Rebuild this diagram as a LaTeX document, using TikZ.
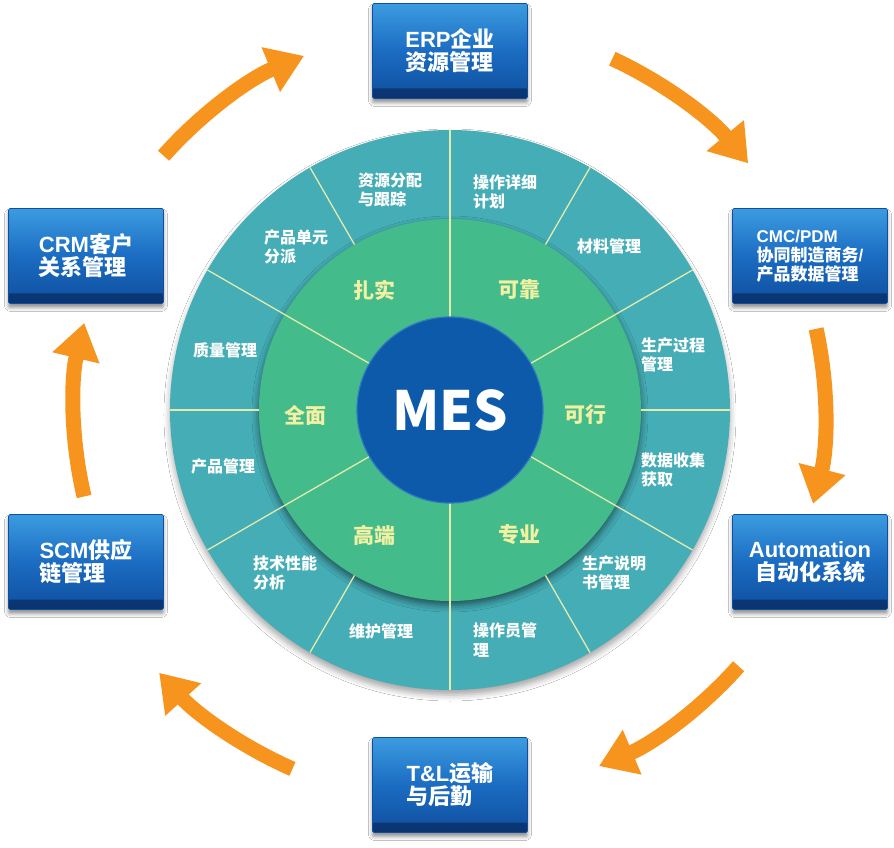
\documentclass[tikz,border=0pt]{standalone}
\usepackage{fontspec}
\setmainfont{Liberation Sans}
\newfontfamily\cjkf{Noto Sans CJK SC}
\newfontfamily\latf{Liberation Sans}
\usetikzlibrary{arrows.meta,shadows.blur}

\definecolor{tealA}{HTML}{45ADB6}
\definecolor{tealB}{HTML}{3399A5}
\definecolor{tealC}{HTML}{1F6F79}
\definecolor{greenA}{HTML}{44BB8B}
\definecolor{greenB}{HTML}{2E9D71}
\definecolor{greenC}{HTML}{15644A}
\definecolor{mesblue}{HTML}{0C5AA9}
\definecolor{mesrim}{HTML}{2E78C0}
\definecolor{labelyellow}{HTML}{F2F0A2}
\definecolor{divline}{HTML}{E3EBAA}
\definecolor{arrorange}{HTML}{F7941E}
\definecolor{boxtop}{HTML}{3C9BE0}
\definecolor{boxmid}{HTML}{1B6CC2}
\definecolor{boxbot}{HTML}{0F4F9E}
\definecolor{boxdark}{HTML}{0A3470}

\pgfdeclareradialshading{outerringshade}{\pgfpoint{0bp}{0bp}}{color(0bp)=(tealA); color(40bp)=(tealA); color(47bp)=(tealB); color(50bp)=(tealC)}
\pgfdeclareradialshading{greenringshade}{\pgfpoint{0bp}{10bp}}{color(0bp)=(greenA); color(30bp)=(greenA); color(46bp)=(greenB); color(50bp)=(greenC)}

\tikzset{
  ringdisc/.style={circle, inner sep=0pt, outer sep=0pt},
  divider/.style={draw=divline, line width=1.3pt},
  ringtxt/.style={anchor=west, align=left, text=white, inner sep=0pt,
    font=\cjkf\bfseries\fontsize{16}{19.5}\selectfont},
  innerlbl/.style={text=labelyellow, inner sep=0pt,
    font=\cjkf\bfseries\fontsize{21}{21}\selectfont},
  sysbox/.style={rectangle, minimum width=155pt, minimum height=95pt, inner sep=0pt,
    rounded corners=1.5pt, top color=boxtop, bottom color=boxbot, middle color=boxmid,
    draw=boxbot, line width=0.6pt, text=white, align=left,
    font=\cjkf\bfseries\fontsize{22}{23}\selectfont,
    blur shadow={shadow xshift=0pt, shadow yshift=-4pt, shadow blur radius=4pt, shadow opacity=45},
    path picture={\shade[top color=boxbot, bottom color=boxdark]
      (path picture bounding box.south west) rectangle ([yshift=10pt]path picture bounding box.south east);}},
  flow/.style={draw=arrorange, line width=15pt, -{Triangle[length=36pt,width=46pt]}}
}

\begin{document}
\begin{tikzpicture}[x=1pt,y=1pt]
\fill[white] (-450,-438) rectangle (444,410);
\useasboundingbox (-450,-438) rectangle (444,410);

% rings
\node[ringdisc, minimum size=560pt, shade, shading=outerringshade,
  blur shadow={shadow xshift=0pt, shadow yshift=-5pt, shadow blur radius=6pt, shadow opacity=35}] (outer) at (0,0) {};
\node[ringdisc, minimum size=382pt, shade, shading=greenringshade,
  blur shadow={shadow xshift=0pt, shadow yshift=-4pt, shadow blur radius=7pt, shadow opacity=55}] (green) at (0,0) {};
\node[ringdisc, minimum size=186pt] (core) at (0,0) {};

% dividers
\foreach \a in {30,90,150,210,270,330} \draw[divider] (core.\a) -- (outer.\a);
\foreach \a in {0,60,120,180,240,300} \draw[divider] (green.\a) -- (outer.\a);

% centre
\node[ringdisc, minimum size=186pt, fill=mesblue, draw=mesrim, line width=1.2pt,
  text=white, font=\cjkf\bfseries\fontsize{54}{54}\selectfont] (mes) at (0,0) {MES};

% inner labels
\node[innerlbl] (l1) at (-75,120) {扎实};
\node[innerlbl] (l2) at (69,120) {可靠};
\node[innerlbl] (l3) at (135,-5) {可行};
\node[innerlbl] (l4) at (69,-125) {专业};
\node[innerlbl] (l5) at (-75,-125) {高端};
\node[innerlbl] (l6) at (-144,-5) {全面};

% outer ring texts
\node[ringtxt] (t1) at (-92,220) {资源分配\\与跟踪};
\node[ringtxt] (t2) at (23,218) {操作详细\\计划};
\node[ringtxt] (t3) at (127,164) {材料管理};
\node[ringtxt] (t4) at (191,55) {生产过程\\管理};
\node[ringtxt] (t5) at (191,-60) {数据收集\\获取};
\node[ringtxt] (t6) at (132,-163) {生产说明\\书管理};
\node[ringtxt] (t7) at (23,-230) {操作员管\\理};
\node[ringtxt] (t8) at (-101,-221) {维护管理};
\node[ringtxt] (t9) at (-197,-163) {技术性能\\分析};
\node[ringtxt] (t10) at (-259,-56) {产品管理};
\node[ringtxt] (t11) at (-257,60) {质量管理};
\node[ringtxt] (t12) at (-186,163) {产品单元\\分派};

% boxes
\node[sysbox] (erp) at (0,359) {{\latf ERP}企业\\资源管理};
\node[sysbox, font=\cjkf\bfseries\fontsize{17}{19}\selectfont] (cmc) at (360,154) {{\latf CMC/PDM}\\协同制造商务{\latf /}\\产品数据管理};
\node[sysbox, align=center] (auto) at (360,-152) {{\latf Automation}\\自动化系统};
\node[sysbox] (tl) at (0,-375) {{\latf T\&L}运输\\与后勤};
\node[sysbox] (scm) at (-364,-152) {{\latf SCM}供应\\链管理};
\node[sysbox] (crm) at (-364,154) {{\latf CRM}客户\\关系管理};

% flow arrows
\coordinate (a1) at (138.4:383);
\coordinate (a2) at (65.2:387);
\coordinate (a3) at (12.5:375);
\coordinate (a4) at (-41.6:386);
\coordinate (a5) at (246.3:392);
\coordinate (a6) at (193.3:376);
\draw[flow] (a1) arc[start angle=138.4, end angle=112.4, radius=383];
\draw[flow] (a2) arc[start angle=65.2, end angle=39.6, radius=387];
\draw[flow] (a3) arc[start angle=12.5, end angle=-14.5, radius=375];
\draw[flow] (a4) arc[start angle=-41.6, end angle=-67.3, radius=386];
\draw[flow] (a5) arc[start angle=246.3, end angle=222.1, radius=392];
\draw[flow] (a6) arc[start angle=193.3, end angle=166.6, radius=376];
\end{tikzpicture}
\end{document}
